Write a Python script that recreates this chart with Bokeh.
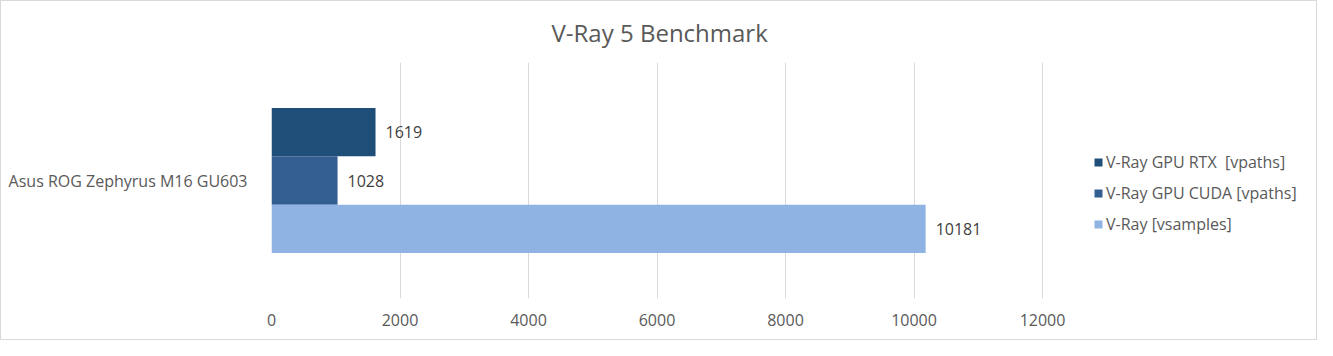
from bokeh.plotting import figure
from bokeh.models import ColumnDataSource, Legend, LegendItem, FactorRange, Range1d, FixedTicker
from bokeh.transform import dodge
from bokeh.core.properties import value
from bokeh.embed import file_html
from bokeh.resources import INLINE

# ---- data ----
categories = ["Asus ROG Zephyrus M16 GU603"]
series_names = ["V-Ray GPU RTX  [vpaths]", "V-Ray GPU CUDA [vpaths]", "V-Ray [vsamples]"]
series_values = [1619, 1028, 10181]
series_colors = ["#1F4E79", "#335E92", "#8FB4E3"]
x_ticks = [0, 2000, 4000, 6000, 8000, 10000, 12000]

FONT = "Open Sans"
TEXT = "#595959"

W, H = 1317, 340
FRAME_L, FRAME_R = 270, 1313       # frame pixel edges
AXIS_END_PX = 1041                  # pixel where 12000 sits
FRAME_T, FRAME_B = 61, 297
x_end = x_ticks[-1] * (FRAME_R - FRAME_L) / (AXIS_END_PX - FRAME_L)

p = figure(width=W, height=H, y_range=FactorRange(*categories),
           x_range=Range1d(0, x_end), output_backend="svg", toolbar_location=None,
           min_border_left=FRAME_L, min_border_right=W - FRAME_R,
           min_border_top=FRAME_T, min_border_bottom=H - FRAME_B)
p.title.text = "V-Ray 5 Benchmark"
p.title.align = "left"
p.title.vertical_align = "middle"
p.title.text_font = FONT
p.title.text_font_size = "24px"
p.title.text_font_style = "normal"
p.title.text_color = TEXT
p.title.standoff = 25
p.title.offset = 550 - FRAME_L
p.outline_line_color = None
p.background_fill_color = "white"

offsets = [0.205, 0.0, -0.205]
items = []
for name, val, col, off in zip(series_names, series_values, series_colors, offsets):
    src = ColumnDataSource(dict(cat=categories, val=[val], lab=[str(val)]))
    r = p.hbar(y=dodge("cat", off, range=p.y_range), right="val", left=0, height=0.205,
               source=src, fill_color=col, line_color=None)
    p.text(x="val", y=dodge("cat", off, range=p.y_range), text="lab", source=src,
           x_offset=10, text_baseline="middle", text_align="left",
           text_font=value(FONT), text_font_size="16px", text_color="#404040")
    items.append(LegendItem(label=name, renderers=[r]))

legend = Legend(items=items, location=(1092 - FRAME_L, 63), orientation="vertical",
                glyph_width=10, glyph_height=10, label_height=20, spacing=9,
                label_text_font=FONT, label_text_font_size="16px", label_text_color=TEXT,
                padding=0, margin=0, border_line_color=None, background_fill_alpha=0,
                label_standoff=3)
p.add_layout(legend, "center")

p.xaxis.ticker = FixedTicker(ticks=x_ticks)
p.xaxis.axis_line_color = None
p.xaxis.major_tick_line_color = None
p.xaxis.minor_tick_line_color = None
p.xaxis.major_label_standoff = 9
p.xaxis.major_label_text_font = FONT
p.xaxis.major_label_text_font_size = "16px"
p.xaxis.major_label_text_color = TEXT

p.yaxis.axis_line_color = None
p.yaxis.major_tick_line_color = None
p.yaxis.minor_tick_line_color = None
p.yaxis.major_label_standoff = 18
p.yaxis.major_label_text_font = FONT
p.yaxis.major_label_text_font_size = "16px"
p.yaxis.major_label_text_color = TEXT

p.xgrid.ticker = FixedTicker(ticks=x_ticks)
p.xgrid.grid_line_color = "#D9D9D9"
p.ygrid.grid_line_color = None

p.styles = {"border": "1px solid #D9D9D9", "box-sizing": "border-box"}

open("out.html", "w").write(file_html(p, INLINE))
